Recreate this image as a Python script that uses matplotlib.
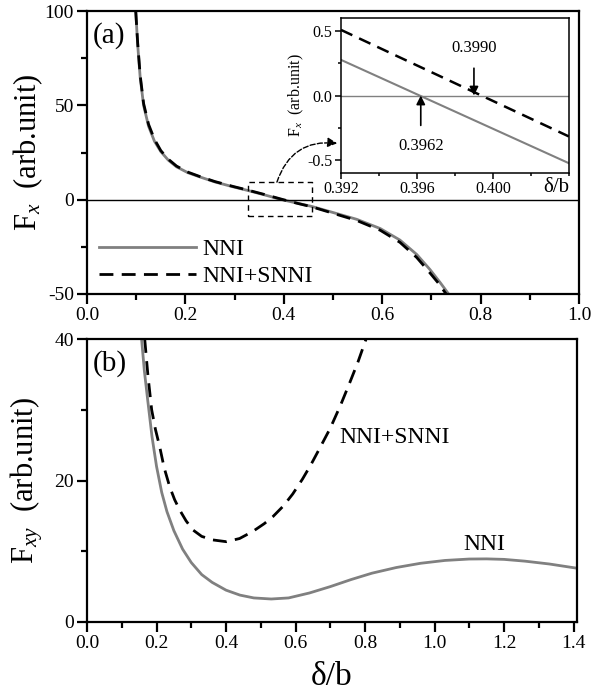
import numpy as np
import matplotlib
matplotlib.use('Agg')
import matplotlib.pyplot as plt
from matplotlib.ticker import MultipleLocator, FixedLocator

plt.rcParams['font.family'] = ['Liberation Serif', 'DejaVu Serif']
plt.rcParams['mathtext.fontset'] = 'custom'
plt.rcParams['mathtext.rm'] = 'Liberation Serif'
plt.rcParams['mathtext.it'] = 'Liberation Serif:italic'
plt.rcParams['axes.unicode_minus'] = False
plt.rcParams['axes.linewidth'] = 1.6
for a in ('xtick', 'ytick'):
    plt.rcParams[a + '.direction'] = 'out'
    plt.rcParams[a + '.major.size'] = 7
    plt.rcParams[a + '.minor.size'] = 4.5
    plt.rcParams[a + '.major.width'] = 1.6
    plt.rcParams[a + '.minor.width'] = 1.6
    plt.rcParams[a + '.major.pad'] = 2.5
    plt.rcParams[a + '.labelsize'] = 14

# ---- data ----
# panel (a): F_x vs delta/b
xa_nni = [0.099, 0.103, 0.108, 0.115, 0.125, 0.137, 0.150, 0.165, 0.182, 0.205, 0.230, 0.260, 0.297,
          0.325, 0.360, 0.396, 0.430, 0.457, 0.500, 0.548, 0.596, 0.636, 0.670, 0.697, 0.718, 0.735]
ya_nni = [100, 82, 65, 50, 39, 31, 25.5, 21, 17.4, 14.3, 12.0, 9.4, 6.8,
          5.0, 2.6, 0.0, -2.0, -3.6, -6.8, -10.4, -15.3, -21.4, -29.0, -37.0, -44.0, -50]
xa_snni = [0.099, 0.103, 0.108, 0.115, 0.125, 0.137, 0.150, 0.165, 0.182, 0.205, 0.230, 0.260, 0.297,
           0.325, 0.360, 0.399, 0.430, 0.457, 0.500, 0.548, 0.596, 0.636, 0.670, 0.697, 0.715, 0.730]
ya_snni = [100, 83, 66, 51, 40, 32, 26, 21.5, 17.8, 14.6, 12.2, 9.6, 7.0,
           5.2, 2.8, 0.0, -2.1, -3.8, -7.2, -11.0, -16.2, -22.6, -30.6, -38.8, -44.5, -50]

# inset: zoom near the zero crossing
xi = [0.392, 0.404]
yi_nni = [0.276, -0.524]
yi_snni = [0.508, -0.317]
root_nni = 0.3962
root_snni = 0.3990

# panel (b): F_xy vs delta/b
xb_nni = [0.157, 0.165, 0.175, 0.187, 0.200, 0.215, 0.230, 0.250, 0.275, 0.300, 0.330, 0.360, 0.400,
          0.440, 0.480, 0.530, 0.580, 0.640, 0.700, 0.760, 0.820, 0.890, 0.960, 1.030, 1.100, 1.150,
          1.200, 1.260, 1.330, 1.410]
yb_nni = [40, 35.5, 31.2, 26.2, 22.0, 18.3, 15.6, 12.9, 10.3, 8.4, 6.7, 5.6, 4.5,
          3.8, 3.4, 3.25, 3.4, 4.1, 5.0, 6.0, 6.9, 7.7, 8.3, 8.7, 8.9, 8.92,
          8.85, 8.6, 8.2, 7.6]
xb_snni = [0.166, 0.175, 0.186, 0.197, 0.209, 0.222, 0.238, 0.252, 0.267, 0.285, 0.305, 0.330, 0.362,
           0.401, 0.439, 0.477, 0.510, 0.535, 0.565, 0.592, 0.620, 0.645, 0.670, 0.700, 0.730, 0.755,
           0.780, 0.803]
yb_snni = [40, 35, 30, 27.2, 24.8, 21.8, 19.1, 17.3, 15.8, 14.3, 13.0, 12.1, 11.6,
           11.35, 11.8, 12.8, 13.9, 14.9, 16.4, 18.1, 20.2, 22.3, 24.6, 27.4, 30.7, 33.7,
           36.8, 40]

gray = '#808080'
dash = (0, (5, 3))

fig = plt.figure(figsize=(5.92, 6.98), dpi=100)

# ---------- panel (a) ----------
ax1 = fig.add_axes([0.147, 0.5788, 0.831, 0.4054])
ax1.plot(xa_nni, ya_nni, color=gray, lw=2, label='NNI')
ax1.plot(xa_snni, ya_snni, color='k', lw=2, linestyle=dash, label='NNI+SNNI')
ax1.axhline(0, color='k', lw=1)
ax1.set_xlim(0, 1.0)
ax1.set_ylim(-50, 100)
ax1.xaxis.set_major_locator(MultipleLocator(0.2))
ax1.xaxis.set_minor_locator(MultipleLocator(0.1))
ax1.yaxis.set_major_locator(MultipleLocator(50))
ax1.yaxis.set_minor_locator(MultipleLocator(25))
ax1.xaxis.set_major_formatter(plt.FuncFormatter(lambda v, p: f'{v:.1f}'))
ax1.set_ylabel(r'F$_{x}$  (arb.unit)', fontsize=22)
ax1.yaxis.set_label_coords(-0.085, 0.5)
ax1.text(0.012, 0.962, '(a)', transform=ax1.transAxes, fontsize=21, va='top', ha='left')
ax1.legend(loc='lower left', bbox_to_anchor=(-0.005, -0.025), frameon=False, fontsize=17,
           handlelength=4.1, handletextpad=0.3, labelspacing=0.22, borderpad=0.1)

# dashed box around the zero crossing
ax1.plot([0.327, 0.457, 0.457, 0.327, 0.327], [-8.7, -8.7, 9.3, 9.3, -8.7],
         color='k', lw=1, linestyle=(0, (4, 3)))

# ---------- inset ----------
axi = fig.add_axes([0.576, 0.7521, 0.385, 0.2221])
axi.plot(xi, yi_nni, color=gray, lw=1.5)
axi.plot(xi, yi_snni, color='k', lw=1.8, linestyle=dash)
axi.axhline(0, color=gray, lw=1)
axi.set_xlim(0.392, 0.404)
axi.set_ylim(-0.6, 0.6)
axi.xaxis.set_major_locator(FixedLocator([0.392, 0.396, 0.400]))
axi.xaxis.set_minor_locator(MultipleLocator(0.002))
axi.yaxis.set_major_locator(MultipleLocator(0.5))
axi.yaxis.set_minor_locator(MultipleLocator(0.25))
for s in axi.spines.values():
    s.set_linewidth(1.1)
axi.tick_params(which='major', length=4, width=1.1, labelsize=11.5, pad=2)
axi.tick_params(which='minor', length=2.5, width=1.1)
axi.xaxis.set_major_formatter(plt.FuncFormatter(lambda v, p: f'{v:.3f}'))
axi.yaxis.set_major_formatter(plt.FuncFormatter(lambda v, p: f'{v:.1f}'))
axi.set_ylabel(r'F$_{x}$  (arb.unit)', fontsize=11.5, labelpad=1)
axi.text(1.0, -0.03, 'δ/b', transform=axi.transAxes, fontsize=15, ha='right', va='top')
axi.annotate(f'{root_snni:.4f}', xy=(root_snni, 0), xytext=(root_snni, 0.37),
             fontsize=12, ha='center', va='center',
             arrowprops=dict(arrowstyle='-|>', color='k', lw=1.2, mutation_scale=13,
                             shrinkA=7, shrinkB=0))
axi.annotate(f'{root_nni:.4f}', xy=(root_nni, 0), xytext=(root_nni, -0.39),
             fontsize=12, ha='center', va='center',
             arrowprops=dict(arrowstyle='-|>', color='k', lw=1.2, mutation_scale=13,
                             shrinkA=7, shrinkB=0))

# curved dashed arrow from the box to the inset
ax1.annotate('', xy=(0.3918, -0.37), xycoords=axi.transData,
             xytext=(0.386, 9.3), textcoords=ax1.transData,
             arrowprops=dict(arrowstyle='-|>', color='k', lw=1, linestyle='--',
                             mutation_scale=14, shrinkA=0, shrinkB=0,
                             connectionstyle='arc3,rad=-0.4'))

# ---------- panel (b) ----------
ax2 = fig.add_axes([0.147, 0.1089, 0.8277, 0.4054])
ax2.plot(xb_nni, yb_nni, color=gray, lw=2)
ax2.plot(xb_snni, yb_snni, color='k', lw=2, linestyle=dash)
ax2.set_xlim(0, 1.41)
ax2.set_ylim(0, 40)
ax2.xaxis.set_major_locator(MultipleLocator(0.2))
ax2.xaxis.set_minor_locator(MultipleLocator(0.1))
ax2.yaxis.set_major_locator(MultipleLocator(20))
ax2.yaxis.set_minor_locator(MultipleLocator(10))
ax2.xaxis.set_major_formatter(plt.FuncFormatter(lambda v, p: f'{v:.1f}'))
ax2.set_ylabel(r'F$_{xy}$  (arb.unit)', fontsize=22)
ax2.yaxis.set_label_coords(-0.085, 0.5)
ax2.set_xlabel('δ/b', fontsize=24, labelpad=7)
ax2.text(0.012, 0.962, '(b)', transform=ax2.transAxes, fontsize=21, va='top', ha='left')
ax2.text(0.726, 26.1, 'NNI+SNNI', fontsize=17, ha='left', va='center')
ax2.text(1.142, 10.95, 'NNI', fontsize=17, ha='center', va='center')

# make sure the left-side ticks are drawn, plus short ticks on the right spine
for ax in (ax1, ax2):
    ax.tick_params(axis='y', which='major', left=True, length=7, width=1.6)
    ax.tick_params(axis='y', which='minor', left=True, length=4.5, width=1.6)

fig.savefig('out.png', dpi=100)
